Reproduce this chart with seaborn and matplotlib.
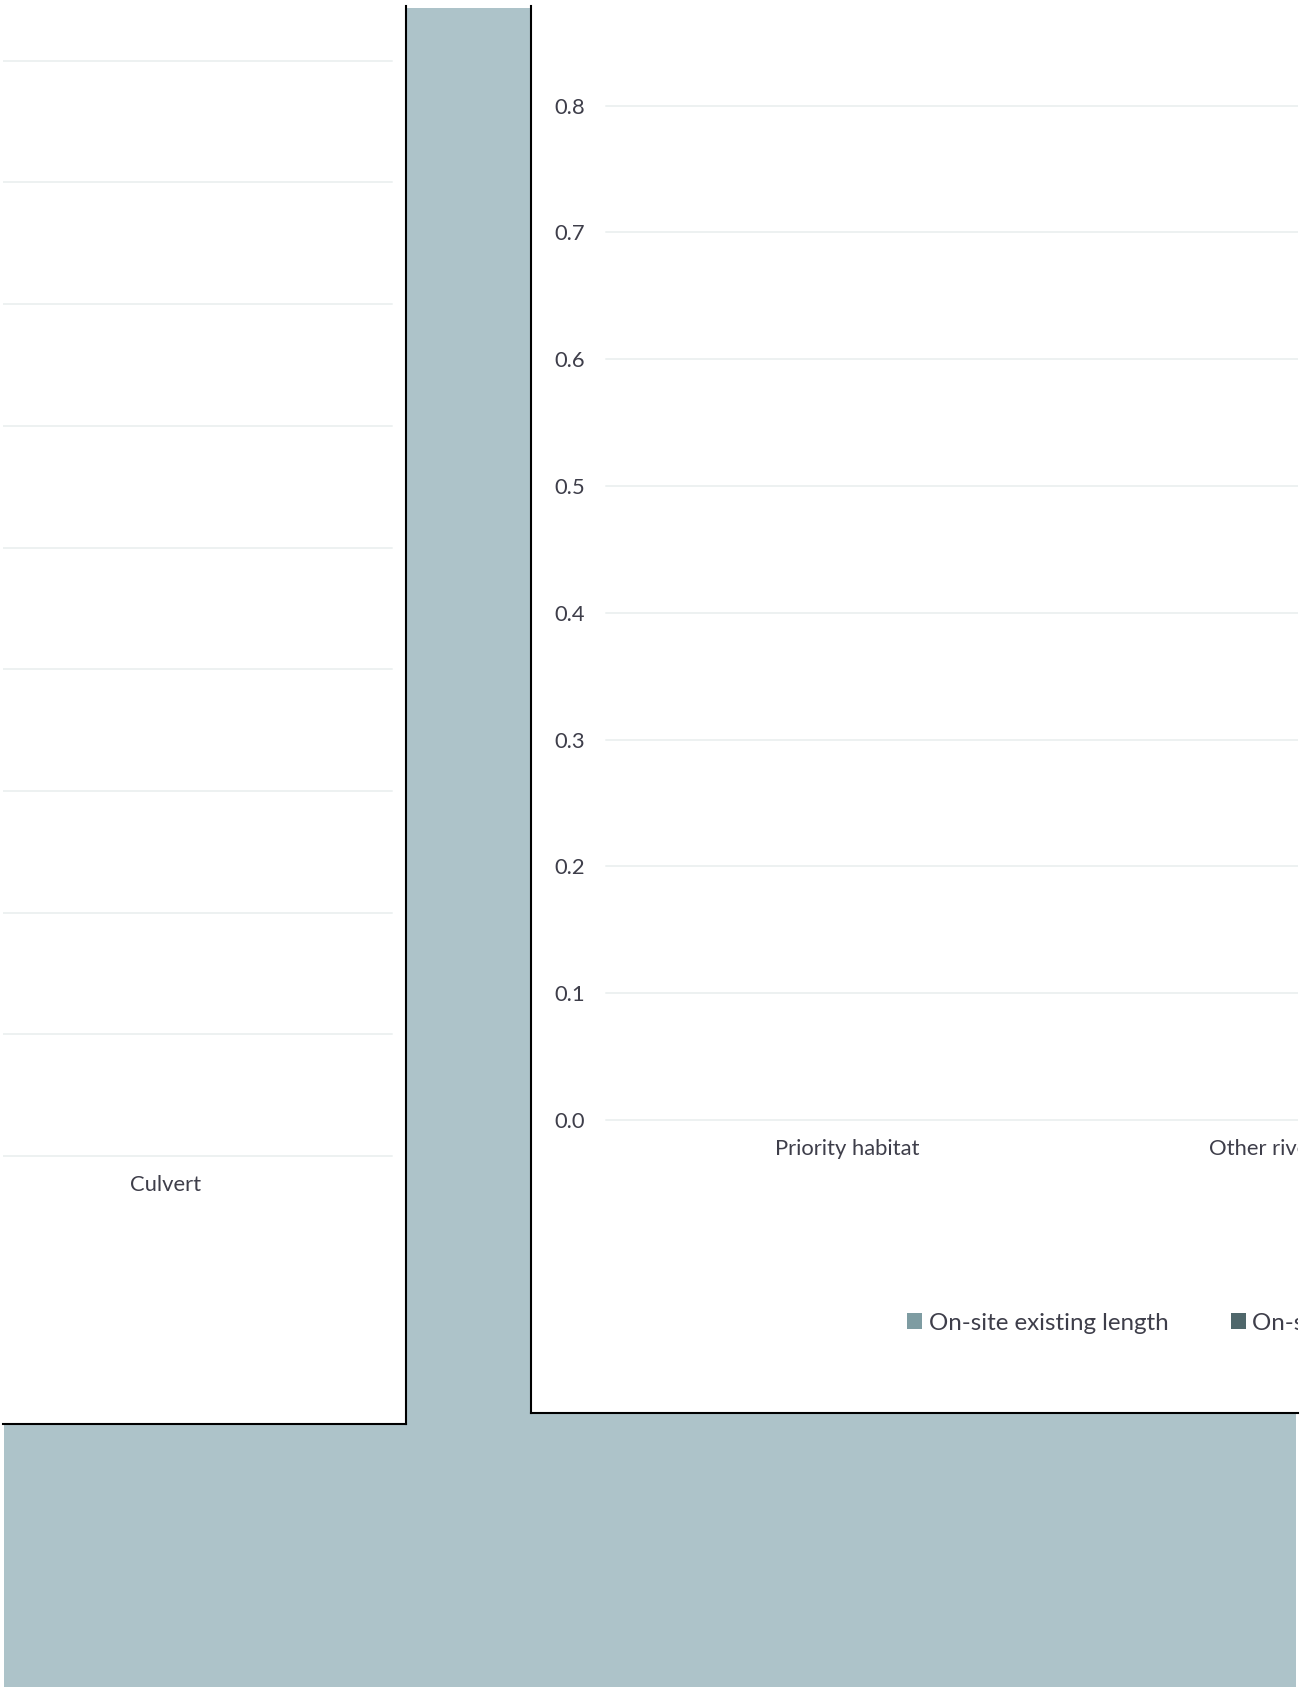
import matplotlib
matplotlib.use('Agg')
import matplotlib.pyplot as plt
from matplotlib.patches import Rectangle
from matplotlib.ticker import FormatStrFormatter
import seaborn as sns
import pandas as pd

# data (both panels show empty / zero bars)
left_categories = ['Culvert']
right_categories = ['Priority habitat', 'Other rivers and streams']
series_names = ['On-site existing length', 'On-site proposed length']
left_existing = [0.0]
left_proposed = [0.0]
right_existing = [0.0, 0.0]
right_proposed = [0.0, 0.0]
y_ticks = [0.0, 0.1, 0.2, 0.3, 0.4, 0.5, 0.6, 0.7, 0.8, 0.9, 1.0]

series_colors = ['#78A0A8', '#4A6A70']
BG = '#ADC3C9'
GRID = '#EDF1F1'
TXT = '#3E3E4A'

left_df = pd.DataFrame({
    'category': left_categories * 2,
    'series': [series_names[0]] * len(left_categories) + [series_names[1]] * len(left_categories),
    'value': left_existing + left_proposed,
})
right_df = pd.DataFrame({
    'category': right_categories * 2,
    'series': [series_names[0]] * len(right_categories) + [series_names[1]] * len(right_categories),
    'value': right_existing + right_proposed,
})

sns.set_style('white')
plt.rcParams['font.family'] = ['Lato', 'DejaVu Sans']

W, H = 1313, 1687
fig = plt.figure(figsize=(W / 100, H / 100), dpi=100, facecolor='white')


def box(x0, y0, x1, y1):
    # pixel box (top-left origin) -> figure fraction rect
    return [x0 / W, 1 - y1 / H, (x1 - x0) / W, (y1 - y0) / H]


# grey backdrop behind the two chart cards
fig.add_artist(Rectangle((4 / W, 0), (1296 - 4) / W, (H - 8) / H,
                         transform=fig.transFigure, facecolor=BG,
                         edgecolor='none', zorder=-5))

# chart cards
panel_l = fig.add_axes(box(3, 6, 406, 1424))
panel_r = fig.add_axes(box(531, 6, 1298, 1413))
for p, shown in [(panel_l, ('right', 'bottom')), (panel_r, ('left', 'bottom'))]:
    p.set_facecolor('white')
    p.set_xticks([])
    p.set_yticks([])
    for side, sp in p.spines.items():
        if side in shown:
            sp.set_visible(True)
            sp.set_color('black')
            sp.set_linewidth(1.5)
        else:
            sp.set_visible(False)

# plot areas (partly outside the visible card)
ax_l = fig.add_axes(box(-60, -61, 392, 1156))
ax_r = fig.add_axes(box(606, -148, 1570, 1120))

sns.barplot(data=left_df, x='category', y='value', hue='series',
            hue_order=series_names, palette=series_colors, ax=ax_l,
            linewidth=0, legend=False)
sns.barplot(data=right_df, x='category', y='value', hue='series',
            hue_order=series_names, palette=series_colors, ax=ax_r,
            linewidth=0)

for ax in (ax_l, ax_r):
    ax.set_facecolor('none')
    ax.set_ylim(0, 1.0)
    ax.set_yticks(y_ticks)
    ax.yaxis.set_major_formatter(FormatStrFormatter('%.1f'))
    ax.set_xlabel('')
    ax.set_ylabel('')
    for sp in ax.spines.values():
        sp.set_visible(False)
    ax.yaxis.grid(True, color=GRID, linewidth=1.4)
    ax.set_axisbelow(True)
    ax.tick_params(axis='both', length=0, labelsize=15.8, colors=TXT)
    ax.tick_params(axis='x', pad=14)
    ax.tick_params(axis='y', pad=15)

# the left chart's value axis lies outside the picture
ax_l.tick_params(axis='y', labelleft=False)

# legend under the right plot
handles = ax_r.legend_.legend_handles
labels = [t.get_text() for t in ax_r.legend_.get_texts()]
ax_r.legend_.remove()
leg = ax_r.legend(handles, labels, loc='center left',
                  bbox_to_anchor=(907 / W, 1 - 1323 / H),
                  bbox_transform=fig.transFigure, ncol=2, frameon=False,
                  fontsize=17.4, handlelength=0.64, handleheight=0.64,
                  handletextpad=0.25, columnspacing=2.6,
                  borderpad=0, borderaxespad=0)
for t in leg.get_texts():
    t.set_color(TXT)

# clip everything of each chart to its card
fig.canvas.draw()
for ax, p in ((ax_l, panel_l), (ax_r, panel_r)):
    for t in ax.get_xticklabels() + ax.get_yticklabels():
        t.set_clip_box(p.bbox)
        t.set_clip_on(True)
    for ln in ax.get_ygridlines():
        ln.set_clip_box(p.bbox)
for t in leg.get_texts():
    t.set_clip_box(panel_r.bbox)
    t.set_clip_on(True)

plt.savefig('out.png', dpi=100, facecolor='white')
